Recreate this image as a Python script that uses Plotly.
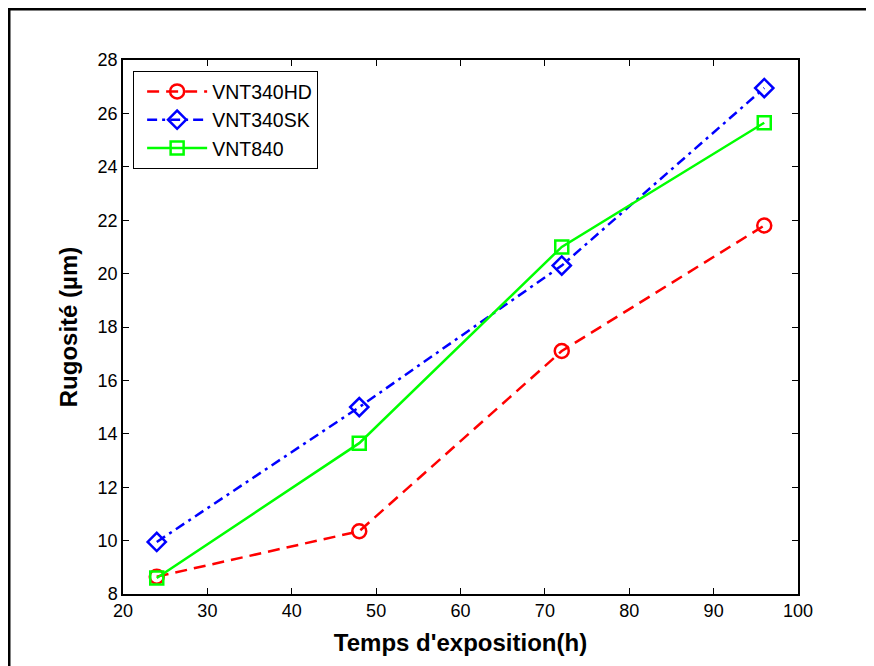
import plotly.graph_objects as go

hours = [24, 48, 72, 96]
vnt340hd = [8.65, 10.35, 17.1, 21.8]
vnt340sk = [9.95, 15.0, 20.3, 26.95]
vnt840 = [8.6, 13.65, 21.0, 25.65]

x_ticks = [20, 30, 40, 50, 60, 70, 80, 90, 100]
y_ticks = [8, 10, 12, 14, 16, 18, 20, 22, 24, 26, 28]

FONT = "Liberation Sans, Arial"

fig = go.Figure()
fig.add_trace(go.Scatter(x=hours, y=vnt340hd, name="VNT340HD", mode="lines+markers", legendgroup="a",
                         line=dict(color="#ff0000", width=2.5, dash="12px,7px"),
                         marker=dict(symbol="circle-open", size=14, color="#ff0000", line=dict(width=2.5))))
fig.add_trace(go.Scatter(x=hours, y=vnt340sk, name="VNT340SK", mode="lines+markers", legendgroup="b",
                         line=dict(color="#0000ff", width=2.5, dash="10px,5px,3px,5px"),
                         marker=dict(symbol="diamond-open", size=14, color="#0000ff", line=dict(width=2.5))))
fig.add_trace(go.Scatter(x=hours, y=vnt840, name="VNT840", mode="lines+markers", legendgroup="c",
                         line=dict(color="#00ff00", width=2.5),
                         marker=dict(symbol="square-open", size=13, color="#00ff00", line=dict(width=2.5))))

axis_common = dict(showline=True, linecolor="black", linewidth=1.5, mirror="ticks",
                   ticks="inside", ticklen=6, tickcolor="black", showgrid=False, zeroline=False,
                   tickfont=dict(family=FONT, size=18, color="black"))

fig.update_xaxes(range=[20, 100], tickvals=x_ticks,
                 title=dict(text="<b>Temps d'exposition(h)</b>", font=dict(family=FONT, size=24, color="black"), standoff=14),
                 **axis_common)
fig.update_yaxes(range=[8, 28], tickvals=y_ticks,
                 title=dict(text="<b>Rugosité (µm)</b>", font=dict(family=FONT, size=24, color="black"), standoff=13),
                 **axis_common)

fig.update_layout(
    width=874, height=666,
    margin=dict(l=115, r=84, t=52, b=80),
    paper_bgcolor="white", plot_bgcolor="white",
    showlegend=True,
    legend=dict(x=0.015, y=0.979, xanchor="left", yanchor="top",
                bordercolor="black", borderwidth=1, bgcolor="white",
                font=dict(family=FONT, size=19.5, color="black"),
                itemwidth=60, tracegroupgap=0, traceorder="grouped", indentation=8),
    shapes=[
        dict(type="line", xref="paper", yref="paper", x0=-0.172, x1=1.2, y0=1.0955, y1=1.0955,
             line=dict(color="black", width=3)),
        dict(type="line", xref="paper", yref="paper", x0=-0.1689, x1=-0.1689, y0=1.098, y1=-0.2,
             line=dict(color="black", width=3)),
    ],
)

fig.write_html("out.html")
